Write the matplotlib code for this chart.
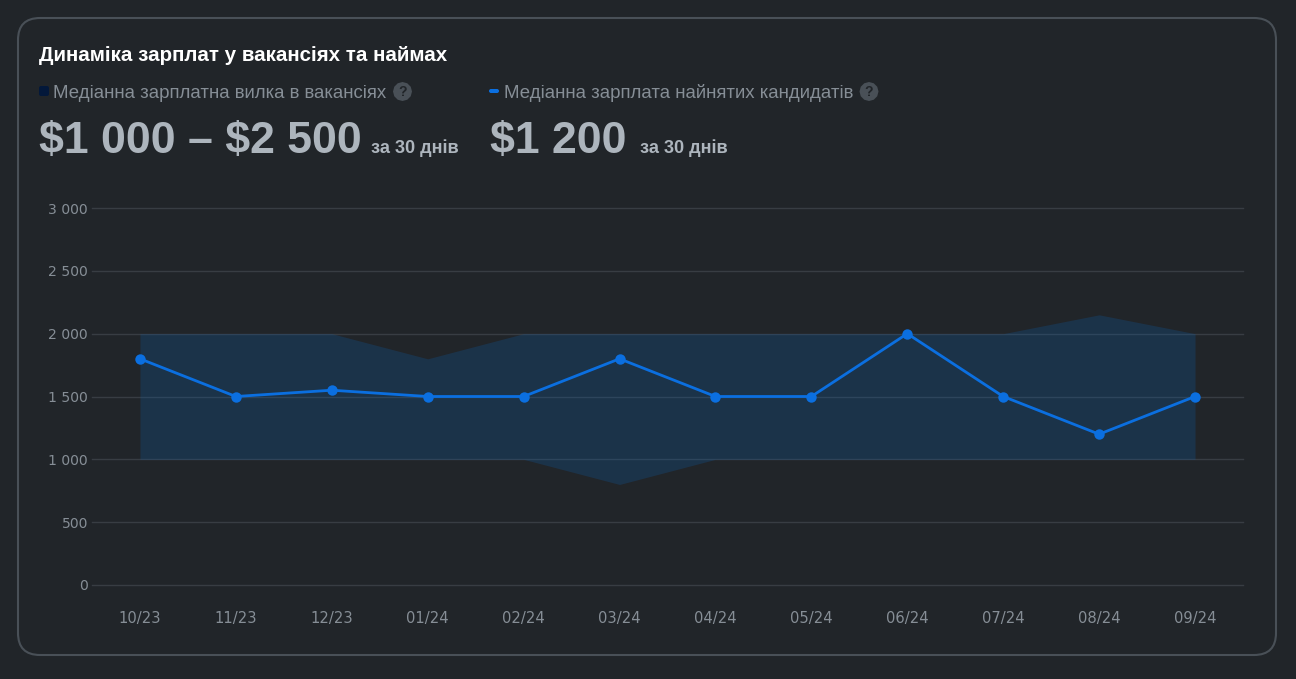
import matplotlib
matplotlib.use("Agg")
import matplotlib.pyplot as plt
from matplotlib.patches import FancyBboxPatch, RegularPolygon

W, H = 1296, 679
BG = "#212529"

months = ["10/23", "11/23", "12/23", "01/24", "02/24", "03/24", "04/24", "05/24", "06/24", "07/24", "08/24", "09/24"]
hired = [1800, 1500, 1550, 1500, 1500, 1800, 1500, 1500, 2000, 1500, 1200, 1500]
band_low = [1000, 1000, 1000, 1000, 1000, 800, 1000, 1000, 1000, 1000, 1000, 1000]
band_high = [2000, 2000, 2000, 1800, 2000, 2000, 2000, 2000, 2000, 2000, 2150, 2000]
y_ticks = [0, 500, 1000, 1500, 2000, 2500, 3000]
y_labels = ["0", "500", "1 000", "1 500", "2 000", "2 500", "3 000"]

plt.rcParams["font.family"] = ["Liberation Sans", "DejaVu Sans"]
plt.rcParams["text.parse_math"] = False


def px_text(ax, x, y, s, size, color, weight="normal", ha="left"):
    # size is given in css pixels
    ax.text(x, y, s, fontsize=size * 0.72, color=color, fontweight=weight, ha=ha, va="baseline")


def help_icon(ax, x, y):
    ax.add_patch(RegularPolygon((x, y), 12, radius=9.5, color="#495057", lw=0))
    ax.text(x, y + 0.4, "?", fontsize=10, color="#212529", fontweight="bold", ha="center", va="center")


fig = plt.figure(figsize=(W / 100, H / 100), dpi=100, facecolor=BG)

# page layer in pixel coordinates, y going down
page = fig.add_axes([0, 0, 1, 1])
page.set_xlim(0, W)
page.set_ylim(H, 0)
page.axis("off")
page.add_patch(FancyBboxPatch((18, 18), 1258, 637, boxstyle="round,pad=0,rounding_size=22",
                              fc=BG, ec="#495057", lw=1.5))

px_text(page, 39, 61, "Динаміка зарплат у вакансіях та наймах", 20.5, "#ffffff", "bold")

page.add_patch(FancyBboxPatch((39, 86), 10, 10, boxstyle="round,pad=0,rounding_size=2", fc="#03183a", ec="none"))
px_text(page, 53, 97.5, "Медіанна зарплатна вилка в вакансіях", 18.7, "#868e96")
help_icon(page, 402.5, 91.5)

page.add_patch(FancyBboxPatch((489, 89), 10, 4, boxstyle="round,pad=0,rounding_size=2", fc="#0b6fe0", ec="none"))
px_text(page, 504, 97.5, "Медіанна зарплата найнятих кандидатів", 18.7, "#868e96")
help_icon(page, 869, 91.5)

px_text(page, 39, 153.5, "$1 000 – $2 500", 44.6, "#adb5bd", "bold")
px_text(page, 371, 153, "за 30 днів", 18.2, "#adb5bd", "bold")
px_text(page, 490, 153.5, "$1 200", 44.6, "#adb5bd", "bold")
px_text(page, 640, 153, "за 30 днів", 18.2, "#adb5bd", "bold")

# chart
ax = fig.add_axes([92 / W, 1 - 585 / H, (1243 - 92) / W, (585 - 208) / H])
ax.patch.set_alpha(0)
x = list(range(len(months)))
ax.set_axisbelow(True)
ax.grid(axis="y", color="#383d43", lw=1, clip_on=False)
ax.fill_between(x, band_low, band_high, color="#0d5da9", alpha=0.25, lw=0)
ax.plot(x, hired, color="#0b6fe0", lw=2, marker="o", ms=7.5, mew=0, clip_on=False)

ax.set_xlim(-0.5, 11.5)
ax.set_ylim(0, 3000)
ax.set_xticks(x, months)
ax.set_yticks(y_ticks, y_labels)
ax.tick_params(axis="both", length=0, labelcolor="#868e96")
ax.tick_params(axis="y", pad=3, labelsize=14 * 0.72)
ax.tick_params(axis="x", pad=19, labelsize=14.8 * 0.72)
for lab in ax.get_xticklabels() + ax.get_yticklabels():
    lab.set_fontfamily("DejaVu Sans")
for s in ax.spines.values():
    s.set_visible(False)

fig.savefig("out.png", dpi=100, facecolor=BG)
